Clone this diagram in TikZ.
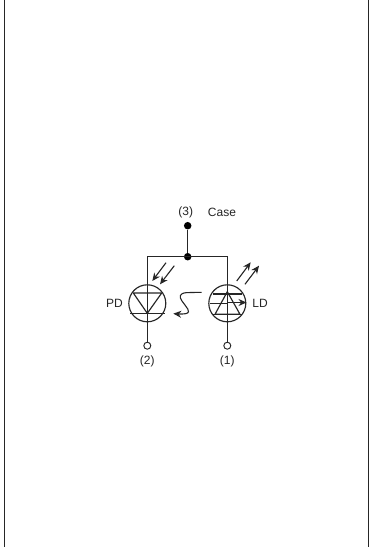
\documentclass[tikz,border=0pt]{standalone}
\usepackage{fontspec}
\setmainfont{Liberation Sans}
\usetikzlibrary{arrows.meta}
\tikzset{
 wire/.style={line width=1.2pt,black!85},
 sym/.style={line width=1.15pt,black!85},
 dot/.style={circle,fill=black,inner sep=0pt,minimum size=7.5pt},
 term/.style={circle,draw=black!85,fill=white,line width=0.95pt,inner sep=0pt,minimum size=7pt},
 lens/.style={circle,draw=black!85,line width=1.15pt,inner sep=0pt,minimum size=37pt},
 lab/.style={font=\fontsize{12}{14}\selectfont,inner sep=0pt,text=black!85},
 ray/.style={line width=1.1pt,black!85,-{Stealth[length=8pt,width=7pt]}},
}
\begin{document}
\begin{tikzpicture}[x=1pt,y=-1pt]
\useasboundingbox (0,0) rectangle (369,547);
\fill[white] (0,0) rectangle (369,547);
\draw[line width=1.5pt,black!85] (4.6,0) -- (4.6,547);
\draw[line width=1.1pt,black!85] (368.3,0) -- (368.3,547);
\node[dot] (case) at (187.7,225.7) {};
\node[dot] (junc) at (187.7,256.7) {};
\node[lens] (pd) at (147.3,303.3) {};
\node[lens] (ld) at (227.3,303.3) {};
\node[term] (t2) at (147.3,345.7) {};
\node[term] (t1) at (227.3,345.7) {};
\coordinate (cl) at (147.3,256.7);
\coordinate (cr) at (227.3,256.7);
\draw[wire] (case) -- (junc);
\draw[wire] (t2) -- (cl) -- (cr) -- (t1);
% PD symbol
\draw[sym] (133.3,293) -- (161.7,293) -- (147.3,313.3) -- cycle;
\draw[sym] (130,313.3) -- (165,313.3);
% LD symbol
\draw[sym] (227.3,291.7) -- (215,314.3) -- (240,314.3) -- cycle;
\draw[sym] (213,294) -- (241.6,294);
\draw[sym] (209.5,303.3) -- (227.3,303.3);
\draw[sym] (213,314.3) -- (241.6,314.3);
\draw[ray] (227.3,302.5) -- (246.5,302.5);
% rays
\draw[ray] (166,262.7) -- (152.3,281);
\draw[ray] (174.3,265.7) -- (160,284.3);
\draw[ray] (236.7,281) -- (250.7,262.3);
\draw[ray] (245,284.3) -- (259,265.7);
% light path
\draw[ray] (201.7,292.3) -- (187,292.6) .. controls (179,293) and (179,297) .. (182,301) .. controls (186,307) and (192,312) .. (186,313.6) .. controls (183,314.2) and (178,314) .. (173.3,313.6);
\node[lab] (l3) at (185.7,212) {(3)};
\node[lab] (lc) at (222,212.3) {Case};
\node[lab] (l2) at (147.3,361.7) {(2)};
\node[lab] (l1) at (227.3,361.7) {(1)};
\node[lab] (lp) at (114.5,303.3) {PD};
\node[lab] (ll) at (260,303.3) {LD};
\end{tikzpicture}
\end{document}
